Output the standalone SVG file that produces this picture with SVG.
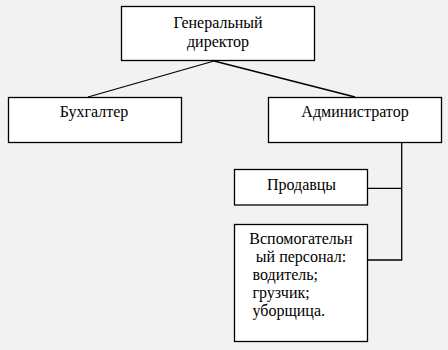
<svg xmlns="http://www.w3.org/2000/svg" width="448" height="350" viewBox="0 0 448 350">
<style>
.box{fill:#fff;stroke:#000;stroke-width:1.3}
.ln{stroke:#000;stroke-width:1.3;fill:none}
text{font-family:"Liberation Serif","Times New Roman",serif;font-size:16px;fill:#000}
.c{text-anchor:middle}
</style>
<rect width="448" height="350" fill="#f2f2f2"/>
<g id="connectors">
<line class="ln" x1="214" y1="61" x2="88" y2="97"/>
<line class="ln" x1="214" y1="61" x2="355" y2="97"/>
<polyline class="ln" points="401.7,142 401.7,260 367,260"/>
<line class="ln" x1="367" y1="188.3" x2="401.7" y2="188.3"/>
</g>
<g id="director">
<rect class="box" x="121.5" y="6.5" width="193" height="54"/>
<text class="c" x="218" y="28">Генеральный</text>
<text class="c" x="218" y="46.5">директор</text>
</g>
<g id="accountant">
<rect class="box" x="8.5" y="97.5" width="173" height="45"/>
<text class="c" x="94" y="117">Бухгалтер</text>
</g>
<g id="admin">
<rect class="box" x="268.5" y="97.5" width="173" height="45"/>
<text class="c" x="355" y="117">Администратор</text>
</g>
<g id="sellers">
<rect class="box" x="234.5" y="169.5" width="133" height="35.5"/>
<text class="c" x="301.5" y="190">Продавцы</text>
</g>
<g id="support">
<rect class="box" x="234.5" y="224.5" width="133" height="117"/>
<text class="c" x="301" y="243.5">Вспомогательн</text>
<text class="c" x="301" y="261.5">ый персонал:</text>
<text x="252.5" y="280">водитель;</text>
<text x="252.5" y="298">грузчик;</text>
<text x="252.5" y="316">уборщица.</text>
</g>
</svg>
